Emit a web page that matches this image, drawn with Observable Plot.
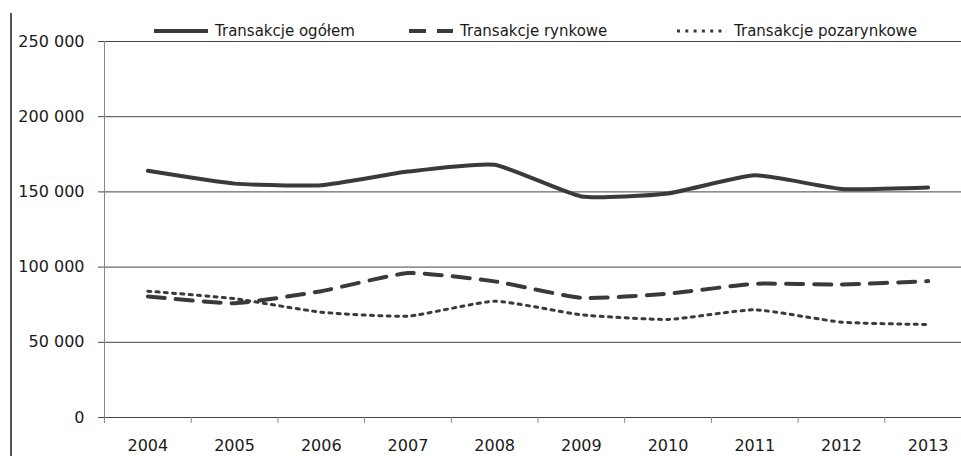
<!DOCTYPE html>
<html>
<head>
<meta charset="utf-8">
<script src="https://cdn.jsdelivr.net/npm/d3@7"></script>
<script src="https://cdn.jsdelivr.net/npm/@observablehq/plot@0.6"></script>
<style>
  html, body { margin: 0; padding: 0; background: #fff; overflow: hidden; }
  #wrap { position: relative; width: 961px; height: 456px; font-family: "DejaVu Sans", sans-serif; color: #1a1a1a; }
  #frameline { position: absolute; left: 10px; top: 13px; bottom: 0; width: 2px; background: #555; }
  .leg { position: absolute; top: 20px; height: 22px; display: flex; align-items: center; font-size: 15px; white-space: nowrap; }
  .leg svg { display: block; margin-right: 7px; }
</style>
</head>
<body>
<div id="wrap">
  <div id="chart"></div>
  <div id="frameline"></div>
  <div id="legend"></div>
</div>
<script>
const years = [2004, 2005, 2006, 2007, 2008, 2009, 2010, 2011, 2012, 2013];
const ogolem = [164000, 155500, 154500, 163500, 168000, 147000, 149000, 161000, 152000, 153000];
const rynkowe = [80500, 76000, 84000, 96000, 90500, 79600, 82300, 88900, 88400, 90700];
const pozarynkowe = [84000, 79000, 70000, 67400, 77300, 68300, 65200, 71600, 63400, 61800];
const seriesNames = ["Transakcje ogółem", "Transakcje rynkowe", "Transakcje pozarynkowe"];
const yTicks = [0, 50000, 100000, 150000, 200000, 250000];

const lineColor = "#3a3a3a";
const styles = [
  {strokeWidth: 4, dash: null},
  {strokeWidth: 4, dash: "17,11"},
  {strokeWidth: 3, dash: "3,5.3"}
];
const seriesValues = [ogolem, rynkowe, pozarynkowe];
const bounds = years.map(y => y - 0.5).concat([years[years.length - 1] + 0.5]);
const fmt = d => d3.format(",")(d).replace(/,/g, " ");

const lineMarks = seriesValues.map((vals, i) =>
  Plot.lineY(vals.map((v, j) => ({year: years[j], value: v})), {
    x: "year", y: "value",
    stroke: lineColor,
    strokeWidth: styles[i].strokeWidth,
    strokeDasharray: styles[i].dash,
    curve: "cardinal",
    tension: 0.5
  })
);

const chart = Plot.plot({
  width: 961,
  height: 456,
  marginLeft: 104,
  marginRight: 0,
  marginTop: 41,
  marginBottom: 39,
  style: {fontFamily: "'DejaVu Sans', sans-serif", fontSize: "16px", color: "#1a1a1a", background: "transparent"},
  x: {type: "linear", domain: [bounds[0], bounds[bounds.length - 1]], range: [104, 971]},
  y: {domain: [0, 250000]},
  marks: [
    Plot.gridY({ticks: yTicks, stroke: "#444", strokeOpacity: 1, strokeWidth: 1}),
    Plot.axisY({ticks: yTicks, tickSize: 6, tickPadding: 14, tickFormat: fmt, stroke: "#444", label: null, fontSize: 16}),
    Plot.axisX({ticks: bounds, tickSize: 6, tickFormat: () => "", stroke: "#888", label: null}),
    Plot.axisX({ticks: years, tickSize: 0, tickPadding: 22, tickFormat: d => String(d), label: null, fontSize: 16}),
    Plot.frame({anchor: "left", stroke: "#888"}),
    ...lineMarks
  ]
});
document.getElementById("chart").appendChild(chart);

// legend
const legendX = [[154, 54], [409, 44], [677, 50]];
const legend = document.getElementById("legend");
seriesNames.forEach((name, i) => {
  const item = document.createElement("div");
  item.className = "leg";
  item.style.left = legendX[i][0] + "px";
  const w = legendX[i][1];
  const dash = styles[i].dash ? `stroke-dasharray="${styles[i].dash}"` : "";
  item.innerHTML = `<svg width="${w}" height="10"><line x1="0" x2="${w}" y1="5" y2="5" stroke="${lineColor}" stroke-width="${styles[i].strokeWidth}" ${dash}/></svg><span>${name}</span>`;
  legend.appendChild(item);
});
</script>
</body>
</html>
